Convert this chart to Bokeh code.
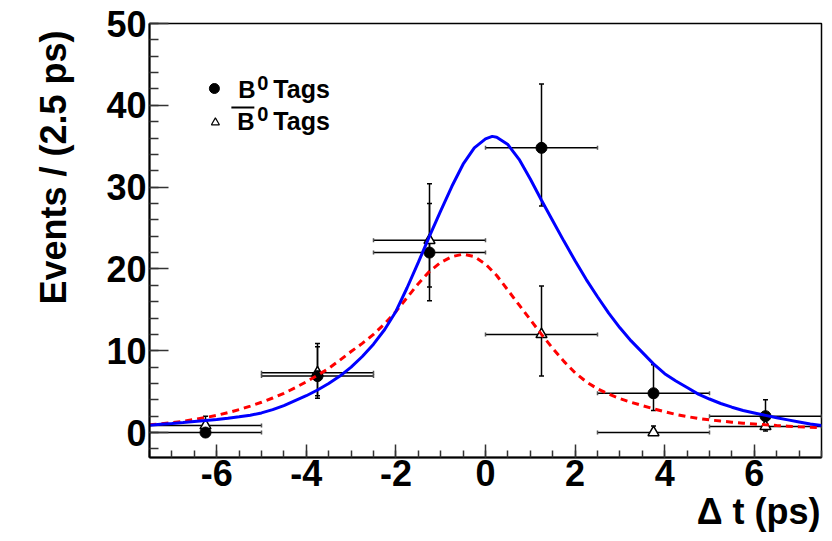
import math
from bokeh.plotting import figure
from bokeh.models import (Range1d, SingleIntervalTicker, Label, Whisker,
                          ColumnDataSource, TeeHead, Title)
from bokeh.embed import file_html
from bokeh.resources import INLINE

# ---------------- data ----------------
bin_centers = [-6.25, -3.75, -1.25, 1.25, 3.75, 6.25]
bin_lo = [-7.5, -5.0, -2.5, 0.0, 2.5, 5.0]
bin_hi = [-5.0, -2.5, 0.0, 2.5, 5.0, 7.5]

b0_events = [0.0, 6.9, 22.0, 34.8, 4.8, 2.0]
b0_err_lo = [0.0, 4.2, 16.1, 27.7, 2.7, 0.9]
b0_err_hi = [0.0, 10.5, 28.0, 42.6, 8.3, 4.0]

b0bar_events = [0.85, 7.3, 23.5, 12.0, 0.0, 0.75]
b0bar_err_lo = [0.2, 4.5, 17.8, 6.9, 0.0, 0.2]
b0bar_err_hi = [2.0, 10.9, 30.4, 17.9, 0.8, 1.5]

b0_fit_dt = [-7.5, -7.25, -7.0, -6.75, -6.5, -6.25, -6.0, -5.75, -5.5, -5.25,
             -5.0, -4.75, -4.5, -4.25, -4.0, -3.75, -3.5, -3.25, -3.0, -2.75,
             -2.5, -2.25, -2.0, -1.75, -1.5, -1.25, -1.0, -0.75, -0.5, -0.25,
             0.0, 0.15, 0.25, 0.5, 0.75, 1.0, 1.25, 1.5, 1.75, 2.0,
             2.25, 2.5, 2.75, 3.0, 3.25, 3.5, 3.75, 4.0, 4.25, 4.5,
             4.75, 5.0, 5.25, 5.5, 5.75, 6.0, 6.25, 6.5, 6.75, 7.0,
             7.25, 7.5]
b0_fit = [0.9, 1.0, 1.1, 1.22, 1.35, 1.47, 1.6, 1.75, 1.92, 2.12,
          2.4, 2.8, 3.3, 3.9, 4.5, 5.2, 6.0, 6.9, 8.0, 9.3,
          10.8, 12.6, 14.8, 17.7, 20.8, 24.0, 27.1, 30.1, 32.8, 34.8,
          35.9, 36.2, 36.1, 35.2, 33.4, 31.0, 28.4, 25.9, 23.4, 21.0,
          18.7, 16.6, 14.6, 12.8, 11.2, 9.8, 8.4, 7.2, 6.3, 5.5,
          4.7, 4.1, 3.55, 3.1, 2.7, 2.4, 2.1, 1.8, 1.55, 1.3,
          1.05, 0.85]

b0bar_fit_dt = [-7.5, -7.25, -7.0, -6.75, -6.5, -6.25, -6.0, -5.75, -5.5, -5.25,
                -5.0, -4.75, -4.5, -4.25, -4.0, -3.75, -3.5, -3.25, -3.0, -2.75,
                -2.5, -2.25, -2.0, -1.75, -1.5, -1.25, -1.0, -0.75, -0.5, -0.25,
                0.0, 0.25, 0.5, 0.75, 1.0, 1.25, 1.5, 1.75, 2.0, 2.25,
                2.5, 2.75, 3.0, 3.25, 3.5, 3.75, 4.0, 4.25, 4.5, 4.75,
                5.0, 5.25, 5.5, 5.75, 6.0, 6.25, 6.5, 6.75, 7.0, 7.25,
                7.5]
b0bar_fit = [0.95, 1.07, 1.2, 1.38, 1.6, 1.83, 2.1, 2.43, 2.8, 3.23,
             3.7, 4.22, 4.8, 5.47, 6.2, 7.0, 7.85, 8.85, 9.9, 10.9,
             12.0, 13.3, 14.8, 16.5, 18.2, 19.7, 20.8, 21.5, 21.8, 21.5,
             20.6, 19.2, 17.4, 15.6, 13.8, 12.0, 10.3, 8.7, 7.3, 6.2,
             5.35, 4.7, 4.15, 3.7, 3.3, 2.9, 2.55, 2.22, 1.95, 1.72,
             1.55, 1.4, 1.27, 1.15, 1.05, 0.95, 0.86, 0.78, 0.7, 0.65,
             0.6]

x_tick_labels = {-6: "-6", -4: "-4", -2: "-2", 0: "0", 2: "2", 4: "4", 6: "6"}

# ---------------- layout ----------------
W, H = 832, 541
FL, FR, FT, FB = 148, 821, 23, 457
X0, X1 = -7.5, 7.5
Y0, Y1 = -3.05, 50.0


def px_x(px):
    return X0 + (px - FL) / (FR - FL) * (X1 - X0)


def px_y(py):
    return Y1 - (py - FT) / (FB - FT) * (Y1 - Y0)


FONT = "Liberation Sans"

p = figure(width=W, height=H, output_backend="svg", toolbar_location=None,
           x_range=Range1d(X0, X1), y_range=Range1d(Y0, Y1),
           min_border_left=FL, min_border_right=W - FR,
           min_border_top=FT, min_border_bottom=H - FB)
p.background_fill_color = "white"
p.border_fill_color = "white"
p.outline_line_color = "black"
p.outline_line_width = 1.5
p.grid.visible = False

p.xaxis.ticker = SingleIntervalTicker(interval=2, num_minor_ticks=4)
p.yaxis.ticker = SingleIntervalTicker(interval=10, num_minor_ticks=5)
p.xaxis.major_label_overrides = x_tick_labels
for ax in (p.xaxis[0], p.yaxis[0]):
    ax.axis_line_width = 2
    ax.axis_line_color = "black"
    ax.major_tick_out = 0
    ax.minor_tick_out = 0
    ax.major_tick_line_width = 1.5
    ax.minor_tick_line_width = 1.5
    ax.major_tick_line_color = "#333333"
    ax.minor_tick_line_color = "#333333"
    ax.major_label_text_font = FONT
    ax.major_label_text_font_style = "bold"
    ax.major_label_text_font_size = "36px"
    ax.major_label_text_color = "black"
p.xaxis.major_tick_in = 13
p.xaxis.minor_tick_in = 7
p.yaxis.major_tick_in = 19
p.yaxis.minor_tick_in = 9
p.xaxis.major_label_standoff = 2
p.yaxis.major_label_standoff = 3

# ---------------- data points ----------------
src_b0 = ColumnDataSource(dict(x=bin_centers, y=b0_events, lo=b0_err_lo, hi=b0_err_hi,
                               xlo=bin_lo, xhi=bin_hi))
src_bar = ColumnDataSource(dict(x=bin_centers, y=b0bar_events, lo=b0bar_err_lo, hi=b0bar_err_hi,
                                xlo=bin_lo, xhi=bin_hi))

for src in (src_b0, src_bar):
    wv = Whisker(source=src, base="x", lower="lo", upper="hi", dimension="height",
                 line_color="black", line_width=1.5,
                 upper_head=TeeHead(size=5, line_width=1.5, line_color="black"),
                 lower_head=TeeHead(size=5, line_width=1.5, line_color="black"))
    wh = Whisker(source=src, base="y", lower="xlo", upper="xhi", dimension="width",
                 line_color="black", line_width=1.5,
                 upper_head=TeeHead(size=4, line_width=1.5, line_color="#555555"),
                 lower_head=TeeHead(size=4, line_width=1.5, line_color="#555555"))
    p.add_layout(wv)
    p.add_layout(wh)

p.scatter("x", "y", source=src_bar, marker="triangle", size=11, fill_color="white",
          line_color="black", line_width=1.5)
p.scatter("x", "y", source=src_b0, marker="circle", size=11, fill_color="black",
          line_color="black")

# ---------------- fit curves ----------------
p.line(b0bar_fit_dt, b0bar_fit, line_color="red", line_width=3, line_dash="7 5")
p.line(b0_fit_dt, b0_fit, line_color="blue", line_width=3)

# ---------------- legend ----------------
p.scatter([px_x(213)], [px_y(88)], marker="circle", size=10, fill_color="black", line_color="black")
p.scatter([px_x(214)], [px_y(122)], marker="triangle", size=8, fill_color="white",
          line_color="black", line_width=1.2)

leg_font = dict(text_font=FONT, text_font_style="bold", text_color="black",
                text_baseline="bottom")
p.add_layout(Label(x=px_x(237), y=px_y(102), text="B", text_font_size="24px", **leg_font))
p.add_layout(Label(x=px_x(256), y=px_y(89), text="0", text_font_size="20px", **leg_font))
p.add_layout(Label(x=px_x(272), y=px_y(102), text="Tags", text_font_size="25px", **leg_font))
p.add_layout(Label(x=px_x(236), y=px_y(134), text="B", text_font_size="24px", **leg_font))
p.add_layout(Label(x=px_x(256), y=px_y(120), text="0", text_font_size="20px", **leg_font))
p.add_layout(Label(x=px_x(272), y=px_y(134), text="Tags", text_font_size="25px", **leg_font))
p.segment(x0=[px_x(230)], y0=[px_y(107)], x1=[px_x(253)], y1=[px_y(107)],
          line_color="black", line_width=2)

# ---------------- titles ----------------
xt = Title(text="Δ t (ps)", align="right", text_font=FONT, text_font_style="bold",
           text_font_size="36px", text_color="black", standoff=0, offset=1)
p.add_layout(xt, "below")
yt = Title(text="Events / (2.5 ps)", align="right", text_font=FONT, text_font_style="bold",
           text_font_size="36px", text_color="black", standoff=60, offset=7)
p.add_layout(yt, "left")
# fragment of a character cut by the left edge of the picture (screen units: frame-relative)
p.add_layout(Label(x=-FL - 8, y=FB - 536, x_units="screen", y_units="screen", text="3",
                   text_font_size="36px", **leg_font))

open("out.html", "w").write(file_html(p, INLINE))
